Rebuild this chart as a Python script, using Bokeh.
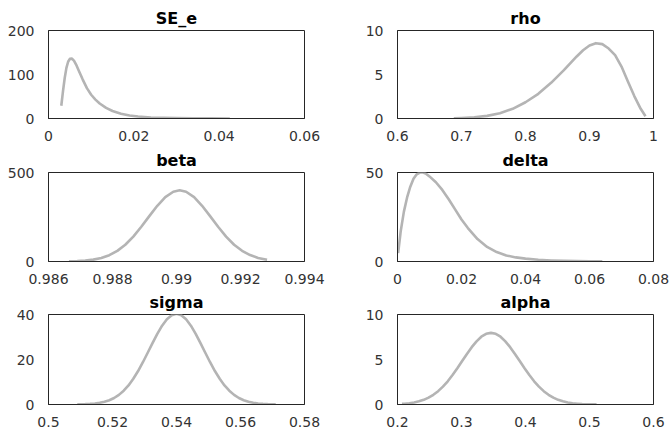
from bokeh.plotting import figure
from bokeh.layouts import column, row
from bokeh.models import Range1d, FixedTicker, CustomJSTickFormatter
from bokeh.embed import file_html
from bokeh.resources import INLINE

# ---- data ----
se_e_x = [0.0030, 0.0034, 0.0038, 0.0042, 0.0046, 0.0050, 0.0055, 0.0060, 0.0065, 0.0070,
          0.0075, 0.0080, 0.0090, 0.0100, 0.0110, 0.0120, 0.0135, 0.0150, 0.0170, 0.0190,
          0.0210, 0.0240, 0.0270, 0.0300, 0.0340, 0.0380, 0.0425]
se_e_y = [29, 62, 92, 115, 129, 135.5, 136, 131, 122, 111,
          100, 89, 69, 54, 43, 34, 24, 17, 11, 7,
          4.5, 2.4, 1.4, 0.8, 0.4, 0.2, 0.1]

rho_x = [0.688, 0.70, 0.72, 0.74, 0.76, 0.78, 0.80, 0.82, 0.84, 0.86, 0.88,
         0.89, 0.90, 0.91, 0.92, 0.93, 0.94, 0.95, 0.96, 0.97, 0.98, 0.9875]
rho_y = [0.03, 0.06, 0.14, 0.3, 0.6, 1.1, 1.85, 2.8, 4.05, 5.5, 7.05,
         7.75, 8.3, 8.56, 8.45, 7.95, 7.2, 5.9, 4.2, 2.55, 1.1, 0.25]

beta_x = [0.98664, 0.98690, 0.98715, 0.98740, 0.98765, 0.98790, 0.98815, 0.98840, 0.98865,
          0.98890, 0.98915, 0.98940, 0.98965, 0.98990, 0.99010, 0.99030, 0.99055, 0.99080,
          0.99105, 0.99130, 0.99155, 0.99180, 0.99205, 0.99230, 0.99255, 0.99283]
beta_y = [0.9, 2.4, 5.2, 10.5, 20, 35.6, 59.8, 94, 140,
          195, 255, 313, 362, 392, 400, 392, 362, 313,
          255, 195, 140, 94, 60, 36, 20, 9.6]

delta_x = [0.0002, 0.001, 0.002, 0.003, 0.004, 0.005, 0.006, 0.007, 0.008, 0.009,
           0.010, 0.012, 0.014, 0.016, 0.018, 0.020, 0.022, 0.025, 0.028, 0.031,
           0.034, 0.037, 0.040, 0.044, 0.048, 0.052, 0.056, 0.060, 0.064]
delta_y = [4.7, 17, 28, 36, 42, 46.5, 49, 50, 50, 49.2,
           47.8, 44.5, 40.2, 35, 29.3, 23.6, 18.8, 12.6, 8.2, 5.3,
           3.4, 2.3, 1.6, 1.0, 0.6, 0.35, 0.2, 0.1, 0.05]

sigma_x = [0.5090, 0.5115, 0.5130, 0.5145, 0.5160, 0.5175, 0.5190, 0.5205, 0.5220, 0.5235,
           0.5250, 0.5265, 0.5280, 0.5295, 0.5310, 0.5325, 0.5340, 0.5355, 0.5370, 0.5385,
           0.5400,
           0.5415, 0.5430, 0.5445, 0.5460, 0.5475, 0.5490, 0.5505, 0.5520, 0.5535, 0.5550,
           0.5565, 0.5580, 0.5595, 0.5610, 0.5625, 0.5640, 0.5655, 0.5670, 0.5685, 0.5710]
sigma_y = [0.05, 0.15, 0.26, 0.45, 0.75, 1.21, 1.91, 2.90, 4.28, 6.13,
           8.49, 11.42, 14.88, 18.79, 23.01, 27.31, 31.41, 35.03, 37.87, 39.68,
           40.3,
           39.68, 37.87, 35.03, 31.41, 27.31, 23.01, 18.79, 14.88, 11.42, 8.49,
           6.13, 4.28, 2.90, 1.91, 1.21, 0.75, 0.45, 0.26, 0.15, 0.05]

alpha_x = [0.207, 0.211, 0.2185, 0.226, 0.2335, 0.241, 0.2485, 0.256, 0.2635, 0.271,
           0.2785, 0.286, 0.2935, 0.301, 0.3085, 0.316, 0.3235, 0.331, 0.3385, 0.346,
           0.3535, 0.361, 0.3685, 0.376, 0.3835, 0.391, 0.3985, 0.406, 0.4135, 0.421,
           0.4285, 0.436, 0.4435, 0.451, 0.4585, 0.466, 0.4735, 0.481, 0.4885, 0.496, 0.511]
alpha_y = [0.07, 0.09, 0.14, 0.23, 0.35, 0.52, 0.76, 1.08, 1.48, 1.99,
           2.58, 3.27, 4.03, 4.83, 5.62, 6.37, 7.02, 7.53, 7.85, 7.96,
           7.85, 7.53, 7.02, 6.37, 5.62, 4.83, 4.03, 3.27, 2.58, 1.99,
           1.48, 1.08, 0.76, 0.52, 0.35, 0.23, 0.14, 0.09, 0.05, 0.03, 0.01]

titles = ["SE_e", "rho", "beta", "delta", "sigma", "alpha"]
x_limits = [(0, 0.06), (0.6, 1.0), (0.986, 0.994), (0, 0.08), (0.5, 0.58), (0.2, 0.6)]
y_limits = [(0, 200), (0, 10), (0, 500), (0, 50), (0, 40), (0, 10)]
x_ticks = [[0, 0.02, 0.04, 0.06], [0.6, 0.7, 0.8, 0.9, 1.0],
           [0.986, 0.988, 0.99, 0.992, 0.994], [0, 0.02, 0.04, 0.06, 0.08],
           [0.5, 0.52, 0.54, 0.56, 0.58], [0.2, 0.3, 0.4, 0.5, 0.6]]
y_ticks = [[0, 100, 200], [0, 5, 10], [0, 500], [0, 50], [0, 20, 40], [0, 5, 10]]
series = [(se_e_x, se_e_y), (rho_x, rho_y), (beta_x, beta_y),
          (delta_x, delta_y), (sigma_x, sigma_y), (alpha_x, alpha_y)]

FONT = "DejaVu Sans"
AX = "#262626"
LINE = "#b4b4b4"

fmt_code = """
var s = tick.toFixed(3);
s = s.replace(/0+$/, '').replace(/\\.$/, '');
if (s === '-0') { s = '0'; }
return s;
"""

# column geometry: (width, border_left, border_right)
cols = [(335, 48, 31), (336, 62, 18)]
# row geometry: (height, border_top, border_bottom)
rows_geo = [(145, 30, 27), (142, 27, 26), (144, 27, 27)]


def make(i):
    r, c = divmod(i, 2)
    w, bl, br = cols[c]
    h, bt, bb = rows_geo[r]
    p = figure(width=w, height=h, output_backend="svg", toolbar_location=None,
               x_range=Range1d(*x_limits[i]), y_range=Range1d(*y_limits[i]),
               min_border_left=bl, min_border_right=br,
               min_border_top=bt, min_border_bottom=bb,
               title=titles[i])
    p.title.align = "center"
    p.title.text_font = FONT
    p.title.text_font_size = "16px"
    p.title.text_font_style = "bold"
    p.title.text_color = "#000000"
    p.title.standoff = 6
    p.xgrid.visible = False
    p.ygrid.visible = False
    p.outline_line_color = AX
    p.outline_line_width = 1
    p.outline_line_alpha = 1
    p.background_fill_color = "white"
    p.border_fill_color = "white"
    for ax, ticks in ((p.xaxis, x_ticks[i]), (p.yaxis, y_ticks[i])):
        ax.ticker = FixedTicker(ticks=ticks)
        ax.formatter = CustomJSTickFormatter(code=fmt_code)
        ax.major_tick_line_color = None
        ax.minor_tick_line_color = None
        ax.axis_line_color = AX
        ax.major_label_text_font = FONT
        ax.major_label_text_font_size = "14px"
        ax.major_label_text_color = "#333333"
    p.xaxis.major_label_standoff = 6
    p.yaxis.major_label_standoff = 8
    xs, ys = series[i]
    p.line(xs, ys, line_color=LINE, line_width=2.6, line_join="round")
    return p


plots = [make(i) for i in range(6)]
layout = column(row(plots[0], plots[1]), row(plots[2], plots[3]), row(plots[4], plots[5]))

open("out.html", "w").write(file_html(layout, INLINE))
